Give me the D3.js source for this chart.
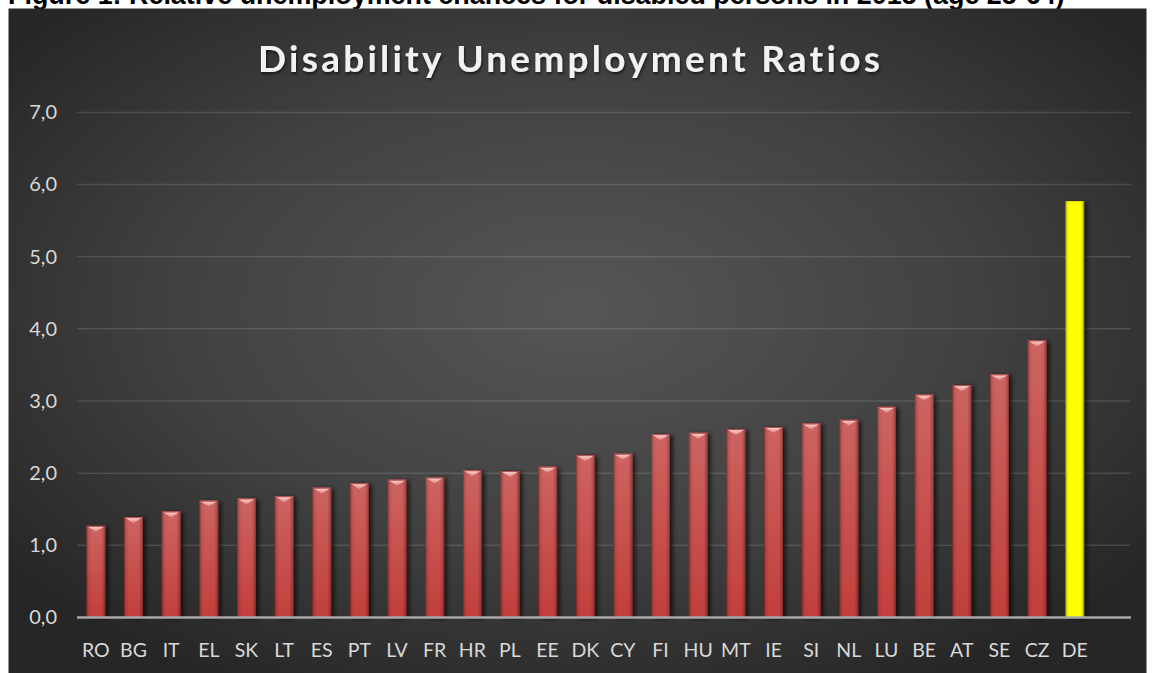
<!DOCTYPE html>
<html>
<head>
<meta charset="utf-8">
<script src="https://cdn.jsdelivr.net/npm/d3@7"></script>
<style>
  html, body { margin: 0; padding: 0; background: #ffffff; }
  svg { display: block; }
  text { font-variant-ligatures: none; }
</style>
</head>
<body>
<svg id="chart" width="1155" height="673"></svg>
<script>
// Relative unemployment chances of disabled persons, 2015 (age 25-64)
const captionText = "Figure 1: Relative unemployment chances for disabled persons in 2015 (age 25-64)";
const titleText = "Disability Unemployment Ratios";
const countries = ["RO","BG","IT","EL","SK","LT","ES","PT","LV","FR","HR","PL","EE","DK","CY","FI","HU","MT","IE","SI","NL","LU","BE","AT","SE","CZ","DE"];
const ratios = [1.27,1.39,1.47,1.62,1.65,1.68,1.80,1.86,1.91,1.94,2.04,2.03,2.09,2.25,2.27,2.54,2.56,2.61,2.64,2.69,2.74,2.92,3.09,3.22,3.37,3.84,5.77];
const highlighted = ["DE"];
const yTicks = [0,1,2,3,4,5,6,7];

const svg = d3.select("#chart");
const defs = svg.append("defs");

// chart area frame
const box = {x: 8.5, y: 8.5, w: 1138, h: 665};
const plot = {left: 77, right: 1131, top: 112.4, bottom: 617.5};
const step = 37.65;

// background radial gradient
const bg = defs.append("radialGradient").attr("id", "bgGrad")
  .attr("cx", "0.5").attr("cy", "0.45").attr("r", "0.64");
bg.append("stop").attr("offset", "0").attr("stop-color", "#565656");
bg.append("stop").attr("offset", "0.55").attr("stop-color", "#414141");
bg.append("stop").attr("offset", "1").attr("stop-color", "#262626");

// red bar body
const redV = defs.append("linearGradient").attr("id", "redV").attr("x1", 0).attr("y1", 0).attr("x2", 0).attr("y2", 1);
redV.append("stop").attr("offset", "0").attr("stop-color", "#cd6461");
redV.append("stop").attr("offset", "1").attr("stop-color", "#c13f3c");
// dark side edges
const edge = defs.append("linearGradient").attr("id", "edgeH").attr("x1", 0).attr("y1", 0).attr("x2", 1).attr("y2", 0);
[[0, 0.55], [0.1, 0.12], [0.25, 0], [0.78, 0], [0.92, 0.2], [1, 0.55]].forEach(([o, a]) =>
  edge.append("stop").attr("offset", o).attr("stop-color", "#3a0a09").attr("stop-opacity", a));
// bevel highlight at the bar top
const bevel = defs.append("linearGradient").attr("id", "bevel").attr("x1", 0).attr("y1", 0).attr("x2", 0).attr("y2", 1);
bevel.append("stop").attr("offset", "0").attr("stop-color", "#fbd3d1");
bevel.append("stop").attr("offset", "1").attr("stop-color", "#dc7e7b");
// yellow bar
const yel = defs.append("linearGradient").attr("id", "yelH").attr("x1", 0).attr("y1", 0).attr("x2", 1).attr("y2", 0);
[[0, "#9a9a00"], [0.12, "#f2f200"], [0.22, "#ffff00"], [0.8, "#ffff00"], [0.9, "#eaea00"], [1, "#8c8c00"]].forEach(([o, c]) =>
  yel.append("stop").attr("offset", o).attr("stop-color", c));

// shadow
const sh = defs.append("filter").attr("id", "barShadow").attr("x", "-50%").attr("y", "-10%").attr("width", "220%").attr("height", "130%");
sh.append("feDropShadow").attr("dx", 3).attr("dy", 1).attr("stdDeviation", 2)
  .attr("flood-color", "#000").attr("flood-opacity", 0.65);
const tsh = defs.append("filter").attr("id", "textShadow").attr("x", "-5%").attr("y", "-30%").attr("width", "110%").attr("height", "160%");
tsh.append("feDropShadow").attr("dx", 1).attr("dy", 2).attr("stdDeviation", 1.5)
  .attr("flood-color", "#000").attr("flood-opacity", 0.6);

// caption above the chart, mostly clipped by the top of the image
const caption = svg.append("text")
  .attr("x", 8).attr("y", 4)
  .attr("font-family", "'Liberation Sans', Arial, sans-serif")
  .attr("font-weight", "bold").attr("font-size", 22)
  .attr("fill", "#000")
  .text(captionText);
const cw = caption.node().getComputedTextLength();
caption.attr("font-size", 22 * 1057 / cw);

svg.append("rect")
  .attr("x", box.x).attr("y", box.y).attr("width", box.w).attr("height", box.h)
  .attr("fill", "url(#bgGrad)");

// scales
const x = d3.scaleBand().domain(countries)
  .range([plot.left, plot.left + step * countries.length])
  .paddingInner(0.5).paddingOuter(0.25);
const y = d3.scaleLinear().domain([0, 7]).range([plot.bottom, plot.top]);

const comma = d3.formatLocale({decimal: ",", thousands: ".", grouping: [3], currency: ["", "€"]}).format(".1f");

// gridlines
svg.append("g").selectAll("line").data(yTicks.filter(d => d > 0)).join("line")
  .attr("x1", plot.left).attr("x2", plot.right)
  .attr("y1", d => y(d)).attr("y2", d => y(d))
  .attr("stroke", "#ffffff").attr("stroke-opacity", 0.13).attr("stroke-width", 1.5);

// y axis labels
const yAxis = svg.append("g").attr("transform", "translate(57,0)")
  .call(d3.axisLeft(y).tickValues(yTicks).tickFormat(comma).tickSize(0).tickPadding(0));
yAxis.select(".domain").remove();
yAxis.selectAll("text")
  .attr("font-family", "Lato, 'Open Sans', sans-serif").attr("font-size", 20)
  .attr("fill", "#d9d9d9");

// bars
const bars = svg.append("g").selectAll("g").data(countries.map((c, i) => ({c, v: ratios[i]}))).join("g");
bars.append("rect")
  .attr("x", d => x(d.c)).attr("y", d => y(d.v))
  .attr("width", x.bandwidth()).attr("height", d => y(0) - y(d.v))
  .attr("fill", d => highlighted.includes(d.c) ? "url(#yelH)" : "url(#redV)")
  .attr("filter", "url(#barShadow)");
const redBars = bars.filter(d => !highlighted.includes(d.c));
redBars.append("rect")
  .attr("x", d => x(d.c)).attr("y", d => y(d.v))
  .attr("width", x.bandwidth()).attr("height", d => y(0) - y(d.v))
  .attr("fill", "url(#edgeH)");
redBars.append("path")
  .attr("d", d => {
    const x0 = x(d.c), w = x.bandwidth(), t = y(d.v);
    return `M${x0 + 1.5},${t + 0.8}L${x0 + w - 1.5},${t + 0.8}L${x0 + w / 2},${t + 6}Z`;
  })
  .attr("fill", "url(#bevel)");
redBars.append("line")
  .attr("x1", d => x(d.c) + 0.5).attr("x2", d => x(d.c) + x.bandwidth() - 0.5)
  .attr("y1", d => y(d.v) + 0.5).attr("y2", d => y(d.v) + 0.5)
  .attr("stroke", "#b8504d").attr("stroke-width", 1);

// baseline
svg.append("line")
  .attr("x1", plot.left).attr("x2", plot.right)
  .attr("y1", y(0)).attr("y2", y(0))
  .attr("stroke", "#a8a8a8").attr("stroke-width", 2.3);

// x axis labels
const xAxis = svg.append("g").attr("transform", `translate(0,${y(0)})`)
  .call(d3.axisBottom(x).tickSize(0).tickPadding(0));
xAxis.select(".domain").remove();
xAxis.selectAll("text")
  .attr("y", 39.5).attr("dy", null)
  .attr("font-family", "Lato, 'Open Sans', sans-serif").attr("font-size", 19.5)
  .attr("fill", "#d9d9d9");

// title
svg.append("text")
  .attr("x", 569).attr("y", 72)
  .attr("text-anchor", "middle")
  .attr("font-family", "Lato, 'Open Sans', sans-serif")
  .attr("font-weight", "bold").attr("font-size", 37)
  .attr("textLength", 622).attr("lengthAdjust", "spacing")
  .attr("fill", "#f2f2f2")
  .attr("filter", "url(#textShadow)")
  .text(titleText);
</script>
</body>
</html>
